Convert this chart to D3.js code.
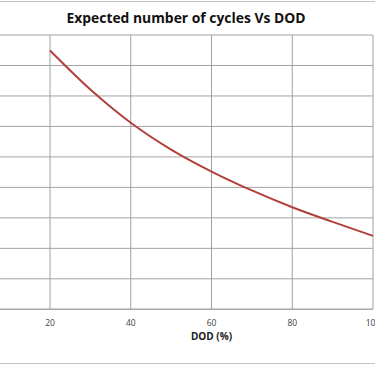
<!DOCTYPE html>
<html>
<head>
<meta charset="utf-8">
<script src="https://cdn.jsdelivr.net/npm/d3@7"></script>
<style>
  body { margin: 0; background: #fff; }
  svg { display: block; }
</style>
</head>
<body>
<div id="chart"></div>
<script>
// data (y labels are cut off in the source, cycles assumed 0..4500)
var dod = [20, 30, 40, 50, 60, 70, 80, 90, 100];
var cycles = [4245, 3605, 3060, 2620, 2260, 1950, 1675, 1435, 1205];
var xTicks = [20, 40, 60, 80, 100];
var yTicks = [0, 500, 1000, 1500, 2000, 2500, 3000, 3500, 4000, 4500];

var width = 375, height = 366;

var svg = d3.select("#chart").append("svg")
    .attr("width", width)
    .attr("height", height);

svg.append("rect").attr("width", width).attr("height", height).attr("fill", "#fff");

// chart border lines (top / bottom)
svg.append("line").attr("x1", 0).attr("x2", width).attr("y1", 1.5).attr("y2", 1.5)
    .attr("stroke", "#c4c4c4").attr("stroke-width", 1);
svg.append("line").attr("x1", 0).attr("x2", width).attr("y1", 363.5).attr("y2", 363.5)
    .attr("stroke", "#c4c4c4").attr("stroke-width", 1);

var xScale = d3.scaleLinear().domain([20, 100]).range([50, 373]);
var yScale = d3.scaleLinear().domain([0, 4500]).range([309.3, 35]);

// horizontal grid
svg.append("g")
    .selectAll("line")
    .data(yTicks)
    .enter()
    .append("line")
    .attr("x1", 0)
    .attr("x2", xScale(100))
    .attr("y1", function(d){ return yScale(d); })
    .attr("y2", function(d){ return yScale(d); })
    .attr("stroke", function(d){ return d == 0 ? "#a8a8a8" : "#a4a4a4"; })
    .attr("stroke-width", function(d){ return d == 0 ? 1.4 : 1; });

// vertical grid
svg.append("g")
    .selectAll("line")
    .data(xTicks)
    .enter()
    .append("line")
    .attr("x1", function(d){ return xScale(d); })
    .attr("x2", function(d){ return xScale(d); })
    .attr("y1", yScale(4500))
    .attr("y2", yScale(0))
    .attr("stroke", "#a0a0a0")
    .attr("stroke-width", 1);

// x tick labels
svg.append("g")
    .selectAll("text")
    .data(xTicks)
    .enter()
    .append("text")
    .attr("x", function(d){ return xScale(d); })
    .attr("y", 325.5)
    .attr("text-anchor", "middle")
    .style("font-family", "'Open Sans', 'Liberation Sans', sans-serif")
    .style("font-size", "8.5px")
    .style("fill", "#404040")
    .text(function(d){ return d; });

// axis title
svg.append("text")
    .attr("x", (xScale(20) + xScale(100)) / 2)
    .attr("y", 340)
    .attr("text-anchor", "middle")
    .style("font-family", "'Open Sans', 'Liberation Sans', sans-serif")
    .style("font-weight", "bold")
    .style("font-size", "10px")
    .style("fill", "#1a1a1a")
    .text("DOD (%)");

// chart title
svg.append("text")
    .attr("x", 186)
    .attr("y", 23)
    .attr("text-anchor", "middle")
    .attr("textLength", 239)
    .attr("lengthAdjust", "spacingAndGlyphs")
    .style("font-family", "'Open Sans', 'Liberation Sans', sans-serif")
    .style("font-weight", "bold")
    .style("font-size", "14.5px")
    .style("fill", "#111")
    .text("Expected number of cycles Vs DOD");

// the curve
var line = d3.line()
    .x(function(d, i){ return xScale(dod[i]); })
    .y(function(d){ return yScale(d); })
    .curve(d3.curveMonotoneX);

svg.append("path")
    .datum(cycles)
    .attr("d", line)
    .attr("fill", "none")
    .attr("stroke", "#b2403c")
    .attr("stroke-width", 2);
</script>
</body>
</html>
